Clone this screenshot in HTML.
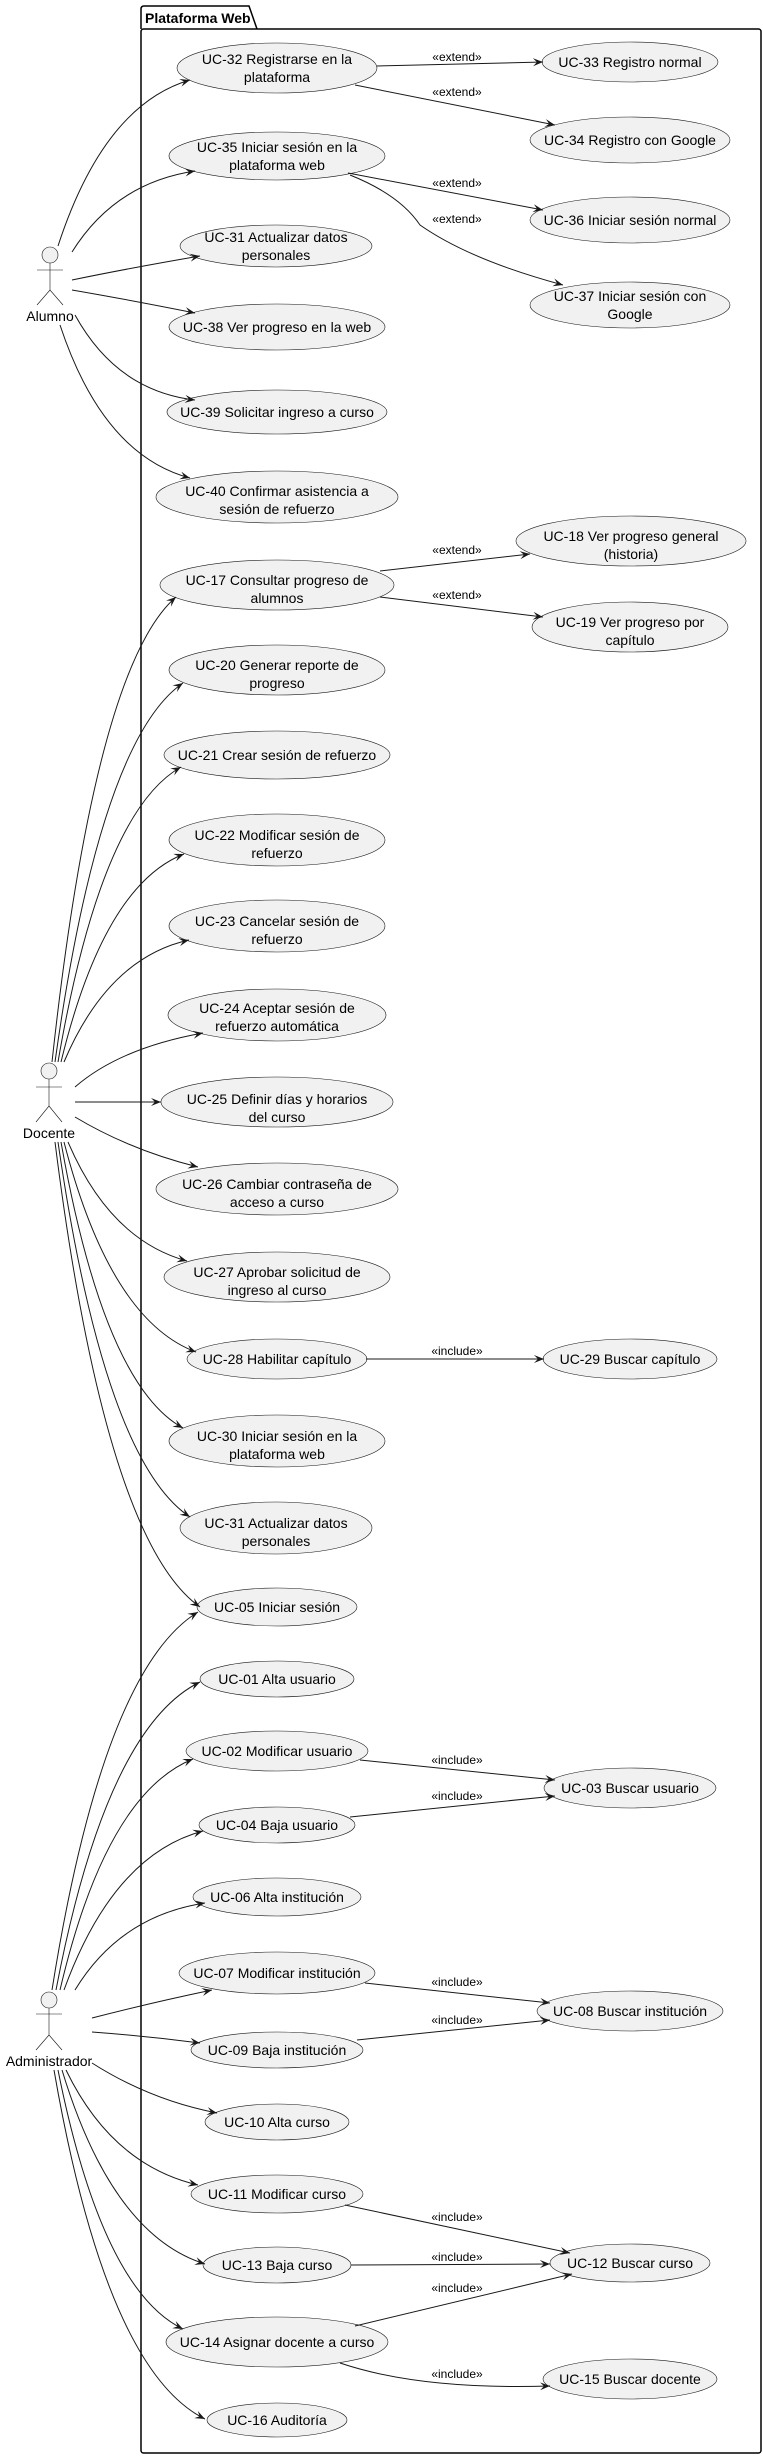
<!DOCTYPE html>
<html><head><meta charset="utf-8"><style>
html,body{margin:0;padding:0;background:#fff}
svg{display:block}
text{font-family:"Liberation Sans",sans-serif;fill:#000}
.uc{fill:#F1F1F1;stroke:#181818;stroke-width:0.6}
.t{font-size:14px;text-anchor:middle}
.l{font-size:12px;text-anchor:middle}
.e{fill:none;stroke:#181818;stroke-width:1;marker-end:url(#a)}
.act{fill:none;stroke:#181818;stroke-width:0.6}
</style></head><body>
<svg width="763" height="2458" viewBox="0 0 763 2458" xmlns="http://www.w3.org/2000/svg">
<defs><marker id="a" markerUnits="userSpaceOnUse" markerWidth="12" markerHeight="10" refX="10" refY="4" orient="auto"><path d="M0,0 L10,4 L0,8 L4,4 Z" fill="#181818"/></marker></defs>

<path d="M141,29 L141,9 Q141,6 144,6 L249,6 L257,29" fill="none" stroke="#000" stroke-width="1.5"/>
<rect x="141" y="29" width="620" height="2424" rx="2.5" fill="none" stroke="#000" stroke-width="1.5"/>
<text x="145" y="23" style="font-size:14px;font-weight:bold">Plataforma Web</text>

<g class="act">
<circle cx="50" cy="255" r="8" fill="#F1F1F1"/><path d="M50,263 V290 M37,270 H63 M50,290 L37,305 M50,290 L63,305"/>
<circle cx="49" cy="1071" r="8" fill="#F1F1F1"/><path d="M49,1079 V1106 M36,1087 H62 M49,1106 L36,1122 M49,1106 L62,1122"/>
<circle cx="49" cy="2000" r="8" fill="#F1F1F1"/><path d="M49,2008 V2035 M36,2014 H62 M49,2035 L36,2050 M49,2035 L62,2050"/>
</g>
<text class="t" x="50" y="321">Alumno</text>
<text class="t" x="49" y="1138">Docente</text>
<text class="t" x="49" y="2066">Administrador</text>

<ellipse class="uc" cx="277" cy="68" rx="100" ry="25"/>
<ellipse class="uc" cx="630" cy="62" rx="88" ry="20"/>
<ellipse class="uc" cx="630" cy="140" rx="100" ry="23"/>
<ellipse class="uc" cx="277" cy="156" rx="108" ry="24"/>
<ellipse class="uc" cx="630" cy="220" rx="100" ry="23"/>
<ellipse class="uc" cx="630" cy="305" rx="100" ry="23"/>
<ellipse class="uc" cx="276" cy="246" rx="96" ry="21"/>
<ellipse class="uc" cx="277" cy="327" rx="108" ry="23"/>
<ellipse class="uc" cx="277" cy="412" rx="110" ry="22"/>
<ellipse class="uc" cx="277" cy="497" rx="121" ry="26"/>
<ellipse class="uc" cx="631" cy="541" rx="115" ry="25"/>
<ellipse class="uc" cx="277" cy="585" rx="117" ry="25"/>
<ellipse class="uc" cx="630" cy="627" rx="98" ry="25"/>
<ellipse class="uc" cx="277" cy="670" rx="108" ry="25"/>
<ellipse class="uc" cx="277" cy="755" rx="113" ry="24"/>
<ellipse class="uc" cx="277" cy="840" rx="108" ry="26"/>
<ellipse class="uc" cx="277" cy="926" rx="108" ry="26"/>
<ellipse class="uc" cx="277" cy="1015" rx="109" ry="26"/>
<ellipse class="uc" cx="277" cy="1102" rx="116" ry="25"/>
<ellipse class="uc" cx="277" cy="1189" rx="121" ry="26"/>
<ellipse class="uc" cx="277" cy="1277" rx="113" ry="25"/>
<ellipse class="uc" cx="277" cy="1359" rx="90" ry="20"/>
<ellipse class="uc" cx="630" cy="1359" rx="87" ry="20"/>
<ellipse class="uc" cx="277" cy="1441" rx="108" ry="26"/>
<ellipse class="uc" cx="276" cy="1528" rx="96" ry="26"/>
<ellipse class="uc" cx="277" cy="1607" rx="80" ry="19"/>
<ellipse class="uc" cx="277" cy="1679" rx="77" ry="18"/>
<ellipse class="uc" cx="277" cy="1751" rx="91" ry="20"/>
<ellipse class="uc" cx="630" cy="1788" rx="86" ry="20"/>
<ellipse class="uc" cx="277" cy="1825" rx="78" ry="18"/>
<ellipse class="uc" cx="277" cy="1897" rx="84" ry="19"/>
<ellipse class="uc" cx="277" cy="1973" rx="98" ry="21"/>
<ellipse class="uc" cx="630" cy="2011" rx="93" ry="20"/>
<ellipse class="uc" cx="277" cy="2050" rx="86" ry="18"/>
<ellipse class="uc" cx="277" cy="2122" rx="72" ry="18"/>
<ellipse class="uc" cx="277" cy="2194" rx="86" ry="19"/>
<ellipse class="uc" cx="630" cy="2263" rx="80" ry="19"/>
<ellipse class="uc" cx="277" cy="2265" rx="74" ry="18"/>
<ellipse class="uc" cx="277" cy="2342" rx="111" ry="25"/>
<ellipse class="uc" cx="630" cy="2379" rx="87" ry="20"/>
<ellipse class="uc" cx="277" cy="2420" rx="70" ry="17"/>

<g class="t">
<text class="t" x="277" y="64">UC-32 Registrarse en la</text><text class="t" x="277" y="82">plataforma</text>
<text class="t" x="630" y="67">UC-33 Registro normal</text>
<text class="t" x="630" y="145">UC-34 Registro con Google</text>
<text class="t" x="277" y="152">UC-35 Iniciar sesión en la</text><text class="t" x="277" y="170">plataforma web</text>
<text class="t" x="630" y="225">UC-36 Iniciar sesión normal</text>
<text class="t" x="630" y="301">UC-37 Iniciar sesión con</text><text class="t" x="630" y="319">Google</text>
<text class="t" x="276" y="242">UC-31 Actualizar datos</text><text class="t" x="276" y="260">personales</text>
<text class="t" x="277" y="332">UC-38 Ver progreso en la web</text>
<text class="t" x="277" y="417">UC-39 Solicitar ingreso a curso</text>
<text class="t" x="277" y="496">UC-40 Confirmar asistencia a</text><text class="t" x="277" y="514">sesión de refuerzo</text>
<text class="t" x="631" y="541">UC-18 Ver progreso general</text><text class="t" x="631" y="559">(historia)</text>
<text class="t" x="277" y="585">UC-17 Consultar progreso de</text><text class="t" x="277" y="603">alumnos</text>
<text class="t" x="630" y="627">UC-19 Ver progreso por</text><text class="t" x="630" y="645">capítulo</text>
<text class="t" x="277" y="670">UC-20 Generar reporte de</text><text class="t" x="277" y="688">progreso</text>
<text class="t" x="277" y="760">UC-21 Crear sesión de refuerzo</text>
<text class="t" x="277" y="840">UC-22 Modificar sesión de</text><text class="t" x="277" y="858">refuerzo</text>
<text class="t" x="277" y="926">UC-23 Cancelar sesión de</text><text class="t" x="277" y="944">refuerzo</text>
<text class="t" x="277" y="1013">UC-24 Aceptar sesión de</text><text class="t" x="277" y="1031">refuerzo automática</text>
<text class="t" x="277" y="1104">UC-25 Definir días y horarios</text><text class="t" x="277" y="1122">del curso</text>
<text class="t" x="277" y="1189">UC-26 Cambiar contraseña de</text><text class="t" x="277" y="1207">acceso a curso</text>
<text class="t" x="277" y="1277">UC-27 Aprobar solicitud de</text><text class="t" x="277" y="1295">ingreso al curso</text>
<text class="t" x="277" y="1364">UC-28 Habilitar capítulo</text>
<text class="t" x="630" y="1364">UC-29 Buscar capítulo</text>
<text class="t" x="277" y="1441">UC-30 Iniciar sesión en la</text><text class="t" x="277" y="1459">plataforma web</text>
<text class="t" x="276" y="1528">UC-31 Actualizar datos</text><text class="t" x="276" y="1546">personales</text>
<text class="t" x="277" y="1612">UC-05 Iniciar sesión</text>
<text class="t" x="277" y="1684">UC-01 Alta usuario</text>
<text class="t" x="277" y="1756">UC-02 Modificar usuario</text>
<text class="t" x="630" y="1793">UC-03 Buscar usuario</text>
<text class="t" x="277" y="1830">UC-04 Baja usuario</text>
<text class="t" x="277" y="1902">UC-06 Alta institución</text>
<text class="t" x="277" y="1978">UC-07 Modificar institución</text>
<text class="t" x="630" y="2016">UC-08 Buscar institución</text>
<text class="t" x="277" y="2055">UC-09 Baja institución</text>
<text class="t" x="277" y="2127">UC-10 Alta curso</text>
<text class="t" x="277" y="2199">UC-11 Modificar curso</text>
<text class="t" x="630" y="2268">UC-12 Buscar curso</text>
<text class="t" x="277" y="2270">UC-13 Baja curso</text>
<text class="t" x="277" y="2347">UC-14 Asignar docente a curso</text>
<text class="t" x="630" y="2384">UC-15 Buscar docente</text>
<text class="t" x="277" y="2425">UC-16 Auditoría</text>
</g>

<path class="e" d="M58,246 Q104,105 190,80"/>
<path class="e" d="M72,252 Q115,183 195,171"/>
<path class="e" d="M72,280 Q130,268 200,256"/>
<path class="e" d="M72,290 Q130,300 195,313"/>
<path class="e" d="M75,315 Q117,391 195,400"/>
<path class="e" d="M60,325 Q103,455 190,478"/>

<path class="e" d="M52,1062 Q95,667 176,597"/>
<path class="e" d="M55,1062 Q100,740 183,683"/>
<path class="e" d="M58,1062 Q101,812 181,767"/>
<path class="e" d="M61,1062 Q104,885 184,854"/>
<path class="e" d="M64,1062 Q108,958 189,940"/>
<path class="e" d="M75,1087 Q120,1048 203,1033"/>
<path class="e" d="M75,1102 L161,1102"/>
<path class="e" d="M75,1117 Q130,1150 198,1167"/>
<path class="e" d="M68,1142 Q110,1240 187,1261"/>
<path class="e" d="M64,1142 Q110,1320 196,1352"/>
<path class="e" d="M61,1142 Q104,1385 183,1428"/>
<path class="e" d="M58,1142 Q104,1460 190,1517"/>
<path class="e" d="M55,1142 Q105,1540 200,1607"/>

<path class="e" d="M52,1990 Q103,1670 198,1612"/>
<path class="e" d="M56,1990 Q106,1728 200,1682"/>
<path class="e" d="M60,1990 Q106,1794 193,1759"/>
<path class="e" d="M64,1990 Q113,1855 203,1831"/>
<path class="e" d="M75,1990 Q120,1916 205,1903"/>
<path class="e" d="M92,2018 Q150,2003 212,1990"/>
<path class="e" d="M92,2032 Q146,2036 200,2043"/>
<path class="e" d="M92,2063 Q150,2100 217,2113"/>
<path class="e" d="M66,2070 Q112,2165 198,2185"/>
<path class="e" d="M62,2070 Q112,2235 205,2264"/>
<path class="e" d="M58,2070 Q102,2290 183,2329"/>
<path class="e" d="M54,2070 Q106,2370 205,2419"/>

<path class="e" d="M377,66 L543,62"/>
<path class="e" d="M355,85 L555,125"/>
<path class="e" d="M348,173 L543,210"/>
<path class="e" d="M350,175 Q400,195 420,225 Q470,260 563,285"/>
<path class="e" d="M380,571 L530,554"/>
<path class="e" d="M380,597 L543,617"/>
<path class="e" d="M366,1359 L544,1359"/>
<path class="e" d="M360,1760 L555,1780"/>
<path class="e" d="M350,1817 L555,1796"/>
<path class="e" d="M365,1983 L550,2003"/>
<path class="e" d="M357,2040 L550,2020"/>
<path class="e" d="M345,2205 L570,2253"/>
<path class="e" d="M351,2265 L550,2264"/>
<path class="e" d="M355,2326 L572,2274"/>
<path class="e" d="M340,2363 Q420,2390 550,2386"/>

<g>
<text class="l" x="457" y="61">«extend»</text>
<text class="l" x="457" y="96">«extend»</text>
<text class="l" x="457" y="187">«extend»</text>
<text class="l" x="457" y="223">«extend»</text>
<text class="l" x="457" y="554">«extend»</text>
<text class="l" x="457" y="599">«extend»</text>
<text class="l" x="457" y="1355">«include»</text>
<text class="l" x="457" y="1764">«include»</text>
<text class="l" x="457" y="1800">«include»</text>
<text class="l" x="457" y="1986">«include»</text>
<text class="l" x="457" y="2024">«include»</text>
<text class="l" x="457" y="2221">«include»</text>
<text class="l" x="457" y="2261">«include»</text>
<text class="l" x="457" y="2292">«include»</text>
<text class="l" x="457" y="2378">«include»</text>
</g>
</svg>
</body></html>
